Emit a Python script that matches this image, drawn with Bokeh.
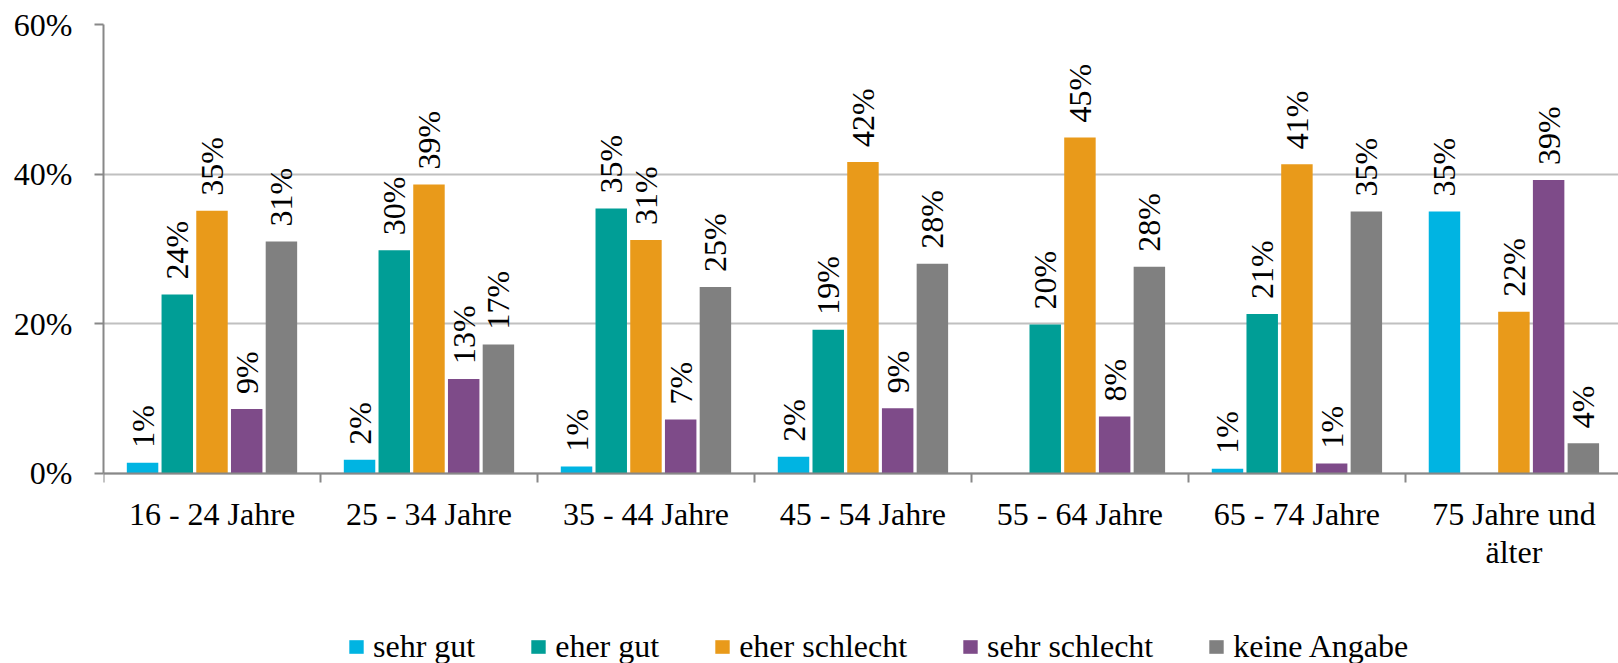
import math
from bokeh.plotting import figure
from bokeh.models import (ColumnDataSource, Range1d, FixedTicker, Legend, LegendItem)
from bokeh.core.properties import value
from bokeh.embed import file_html
from bokeh.resources import INLINE

# ---- data ----
categories = ["16 - 24 Jahre", "25 - 34 Jahre", "35 - 44 Jahre", "45 - 54 Jahre",
              "55 - 64 Jahre", "65 - 74 Jahre", "75 Jahre und\nälter"]
series_names = ["sehr gut", "eher gut", "eher schlecht", "sehr schlecht", "keine Angabe"]
sehr_gut = [1.4, 1.8, 0.9, 2.2, 0.0, 0.6, 35.0]
eher_gut = [23.9, 29.8, 35.4, 19.2, 19.9, 21.3, 0.0]
eher_schlecht = [35.1, 38.6, 31.2, 41.6, 44.9, 41.3, 21.6]
sehr_schlecht = [8.6, 12.6, 7.2, 8.7, 7.6, 1.3, 39.2]
keine_angabe = [31.0, 17.2, 24.9, 28.0, 27.6, 35.0, 4.0]
y_ticks = [0, 20, 40, 60]
y_tick_labels = ["0%", "20%", "40%", "60%"]

series_values = [sehr_gut, eher_gut, eher_schlecht, sehr_schlecht, keine_angabe]
colors = ["#00B4E2", "#009E96", "#E99A1A", "#7E4B89", "#808080"]
FONT = "'Liberation Serif', serif"

n = len(categories)
step = 0.16
bar_w = 0.145
offsets = [(j - 2) * step for j in range(len(series_names))]

# the frame reaches the bottom of the page so the legend can sit inside it;
# the value axis itself only spans 0..60
p = figure(width=1618, height=663, output_backend="svg", toolbar_location=None,
           x_range=Range1d(0, 6.982), y_range=Range1d(-25.44, 60),
           min_border_left=103, min_border_right=0, min_border_top=24,
           min_border_bottom=0)
p.outline_line_color = None
p.background_fill_color = "white"

items = []
for j, name in enumerate(series_names):
    vals = series_values[j]
    xs = [i + 0.5 + offsets[j] for i in range(n)]
    src = ColumnDataSource(dict(x=xs, top=vals))
    r = p.vbar(x="x", top="top", width=bar_w, bottom=0, source=src,
               fill_color=colors[j], line_color=None)
    items.append(LegendItem(label=name, renderers=[r]))
    lx = [x for x, v in zip(xs, vals) if v > 0]
    ly = [v for v in vals if v > 0]
    lt = ["%d%%" % int(v + 0.5) for v in vals if v > 0]
    lsrc = ColumnDataSource(dict(x=lx, y=ly, t=lt))
    p.text(x="x", y="y", text="t", source=lsrc, angle=math.pi / 2,
           text_align="left", text_baseline="middle", y_offset=-15,
           text_font=value(FONT), text_font_size="32px", text_color="black")

# axes
p.xgrid.visible = False
p.ygrid.grid_line_color = "#C0C0C0"
p.ygrid.grid_line_width = 2
p.ygrid.ticker = FixedTicker(ticks=y_ticks)

yax = p.yaxis[0]
yax.ticker = FixedTicker(ticks=y_ticks)
yax.bounds = (0, 60)
yax.major_label_overrides = {t: l for t, l in zip(y_ticks, y_tick_labels)}
yax.axis_line_color = "#888888"
yax.axis_line_width = 2
yax.major_tick_line_color = "#888888"
yax.major_tick_line_width = 2
yax.major_tick_out = 9
yax.major_tick_in = 0
yax.minor_tick_line_color = None
yax.major_label_standoff = 22
yax.major_label_text_font = FONT
yax.major_label_text_font_size = "32px"
yax.major_label_text_color = "black"

centers = [i + 0.5 for i in range(n)]
bounds = [float(i) for i in range(n + 1)]
xax = p.xaxis[0]
xax.fixed_location = 0
xax.ticker = FixedTicker(ticks=centers, minor_ticks=bounds)
xax.major_label_overrides = {c: lab for c, lab in zip(centers, categories)}
xax.axis_line_color = "#888888"
xax.axis_line_width = 2
xax.major_tick_out = 0
xax.major_tick_in = 0
xax.major_tick_line_color = None
xax.minor_tick_line_color = "#888888"
xax.minor_tick_line_width = 2
xax.minor_tick_out = 9
xax.minor_tick_in = 0
xax.major_label_standoff = 14
xax.major_label_text_font = FONT
xax.major_label_text_font_size = "32px"
xax.major_label_text_line_height = 1.05
xax.major_label_text_color = "black"

legend = Legend(items=items, orientation="horizontal", location=(244, -2),
                glyph_width=18, glyph_height=17, label_standoff=8, spacing=54,
                padding=0, margin=0, border_line_alpha=0,
                background_fill_alpha=0, label_text_font=FONT,
                label_text_font_size="32px", label_text_color="black")
p.add_layout(legend, "center")

open("out.html", "w").write(file_html(p, INLINE))
